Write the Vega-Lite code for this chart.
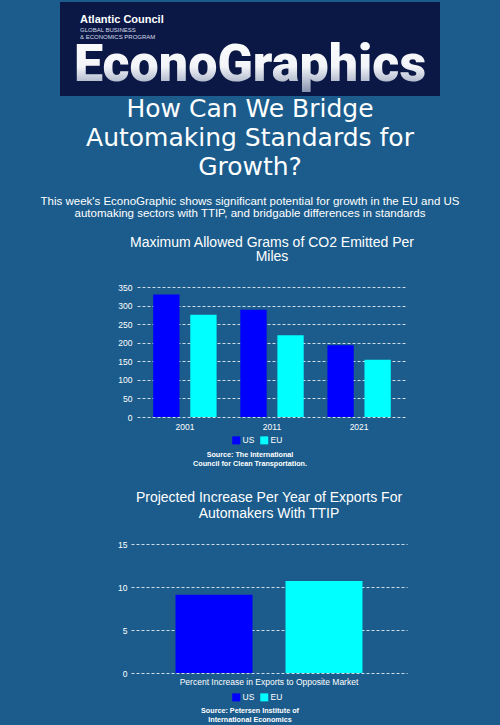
{
  "$schema": "https://vega.github.io/schema/vega-lite/v6.json",
  "background": "#1b5c8c",
  "padding": {"top": 2, "left": 0, "right": 0, "bottom": 0},
  "spacing": 0,
  "resolve": {
    "scale": {"color": "independent", "xOffset": "independent"},
    "legend": {"color": "independent"}
  },
  "config": {
    "font": "Liberation Sans",
    "view": {"stroke": null},
    "axis": {
      "labelColor": "#ffffff",
      "labelFont": "Liberation Sans",
      "labelFontSize": 8.5,
      "domain": false,
      "ticks": false,
      "gridColor": "#cfdcea",
      "gridDash": [3, 2],
      "gridWidth": 1,
      "title": null
    },
    "legend": {
      "symbolType": "square",
      "symbolSize": 64,
      "symbolStrokeWidth": 0,
      "labelColor": "#ffffff",
      "labelFontSize": 8.5,
      "labelOffset": 2,
      "columnPadding": 5,
      "title": null
    }
  },
  "vconcat": [
    {
      "spacing": 0,
      "hconcat": [
        {
          "width": 60,
          "height": 94,
          "data": {"values": [{}]},
          "mark": {"type": "text"},
          "encoding": {"text": {"value": ""}}
        },
        {
          "width": 380,
          "height": 94,
          "view": {"fill": "#0b1846", "stroke": null},
          "title": {
            "text": "Atlantic Council",
            "subtitle": ["GLOBAL BUSINESS", "& ECONOMICS PROGRAM"],
            "anchor": "start",
            "frame": "group",
            "orient": "top",
            "offset": -38,
            "dx": 20,
            "font": "Liberation Sans",
            "fontSize": 11,
            "fontWeight": "bold",
            "color": "#ffffff",
            "subtitleFont": "Liberation Sans",
            "subtitleFontSize": 6,
            "subtitleColor": "#d5dbe8",
            "subtitlePadding": 1.5,
            "subtitleLineHeight": 7.5
          },
          "data": {"values": [{"t": "EconoGraphics"}]},
          "mark": {
            "type": "text",
            "font": "Roboto",
            "fontWeight": 900,
            "fontSize": 52,
            "baseline": "line-top",
            "lineHeight": 34,
            "color": {
              "gradient": "linear",
              "x1": 0, "y1": 0, "x2": 0, "y2": 1,
              "stops": [
                {"offset": 0, "color": "#ffffff"},
                {"offset": 0.55, "color": "#f2f4f8"},
                {"offset": 1, "color": "#7f8cab"}
              ]
            }
          },
          "encoding": {"text": {"field": "t"}}
        }
      ]
    },
    {
      "width": 500,
      "height": 1,
      "title": {
        "text": ["How Can We Bridge", "Automaking Standards for", "Growth?"],
        "subtitle": ["This week's EconoGraphic shows significant potential for growth in the EU and US", "automaking sectors with TTIP, and bridgable differences in standards"],
        "anchor": "middle",
        "frame": "group",
        "orient": "top",
        "offset": 4,
        "font": "DejaVu Sans",
        "fontWeight": "normal",
        "fontSize": 25,
        "lineHeight": 29,
        "color": "#ffffff",
        "subtitleFont": "Liberation Sans",
        "subtitleFontSize": 11.5,
        "subtitleLineHeight": 12.5,
        "subtitleColor": "#ffffff",
        "subtitlePadding": 16
      },
      "data": {"values": [{}]},
      "mark": {"type": "text"},
      "encoding": {"text": {"value": ""}}
    },
    {
      "spacing": 0,
      "resolve": {
        "scale": {"color": "independent", "xOffset": "independent"},
        "legend": {"color": "independent"}
      },
      "hconcat": [
        {
          "width": 112,
          "height": 163,
          "data": {"values": [{}]},
          "mark": {"type": "text"},
          "encoding": {"text": {"value": ""}}
        },
        {
          "width": 270,
          "height": 130,
          "title": {
            "text": ["Maximum Allowed Grams of CO2 Emitted Per", "Miles"],
            "font": "Liberation Sans",
            "fontSize": 14,
            "fontWeight": "normal",
            "color": "#ffffff",
            "lineHeight": 14.5,
            "offset": 19,
            "anchor": "middle"
          },
          "data": {
            "values": [
              {"year": "2001", "region": "US", "value": 330},
              {"year": "2001", "region": "EU", "value": 275},
              {"year": "2011", "region": "US", "value": 289},
              {"year": "2011", "region": "EU", "value": 220},
              {"year": "2021", "region": "US", "value": 193},
              {"year": "2021", "region": "EU", "value": 154}
            ]
          },
          "mark": {"type": "bar"},
          "encoding": {
            "x": {
              "field": "year",
              "type": "nominal",
              "scale": {"paddingInner": 0, "paddingOuter": 0.05},
              "axis": {"labelAngle": 0, "grid": false, "labelPadding": 5}
            },
            "xOffset": {
              "field": "region",
              "type": "nominal",
              "scale": {"domain": ["US", "EU"], "paddingInner": 0.29, "paddingOuter": 0.32}
            },
            "y": {
              "field": "value",
              "type": "quantitative",
              "scale": {"domain": [0, 350], "nice": false},
              "axis": {"values": [0, 50, 100, 150, 200, 250, 300, 350], "minExtent": 25, "labelPadding": 5}
            },
            "color": {
              "field": "region",
              "type": "nominal",
              "scale": {"domain": ["US", "EU"], "range": ["#0000ff", "#00ffff"]},
              "legend": {"orient": "none", "legendX": 95, "legendY": 149, "direction": "horizontal"}
            }
          }
        }
      ]
    },
    {
      "width": 500,
      "height": 1,
      "title": {
        "text": ["Source: The International", "Council for Clean Transportation."],
        "anchor": "middle",
        "frame": "group",
        "orient": "top",
        "offset": 12,
        "font": "Liberation Sans",
        "fontSize": 7.2,
        "fontWeight": "bold",
        "lineHeight": 9.5,
        "color": "#ffffff"
      },
      "data": {"values": [{}]},
      "mark": {"type": "text"},
      "encoding": {"text": {"value": ""}}
    },
    {
      "spacing": 0,
      "resolve": {
        "scale": {"color": "independent", "xOffset": "independent"},
        "legend": {"color": "independent"}
      },
      "hconcat": [
        {
          "width": 106,
          "height": 162,
          "data": {"values": [{}]},
          "mark": {"type": "text"},
          "encoding": {"text": {"value": ""}}
        },
        {
          "width": 276,
          "height": 129,
          "title": {
            "text": ["Projected Increase Per Year of Exports For", "Automakers With TTIP"],
            "font": "Liberation Sans",
            "fontSize": 14,
            "fontWeight": "normal",
            "color": "#ffffff",
            "lineHeight": 16,
            "offset": 19,
            "anchor": "middle"
          },
          "data": {
            "values": [
              {"measure": "Percent Increase in Exports to Opposite Market", "region": "US", "value": 9.1},
              {"measure": "Percent Increase in Exports to Opposite Market", "region": "EU", "value": 10.7}
            ]
          },
          "mark": {"type": "bar"},
          "encoding": {
            "x": {
              "field": "measure",
              "type": "nominal",
              "scale": {"paddingInner": 0, "paddingOuter": 0},
              "axis": {"labelAngle": 0, "grid": false, "labelPadding": 4, "labelLimit": 400}
            },
            "xOffset": {
              "field": "region",
              "type": "nominal",
              "scale": {"domain": ["US", "EU"], "paddingInner": 0.3, "paddingOuter": 0.405}
            },
            "y": {
              "field": "value",
              "type": "quantitative",
              "scale": {"domain": [0, 15], "nice": false},
              "axis": {"values": [0, 5, 10, 15], "minExtent": 25, "labelPadding": 4}
            },
            "color": {
              "field": "region",
              "type": "nominal",
              "scale": {"domain": ["US", "EU"], "range": ["#0000ff", "#00ffff"]},
              "legend": {"orient": "none", "legendX": 101, "legendY": 149, "direction": "horizontal"}
            }
          }
        }
      ]
    },
    {
      "width": 500,
      "height": 1,
      "title": {
        "text": ["Source: Petersen Institute of", "International Economics"],
        "anchor": "middle",
        "frame": "group",
        "orient": "top",
        "offset": 0,
        "font": "Liberation Sans",
        "fontSize": 7.2,
        "fontWeight": "bold",
        "lineHeight": 9.5,
        "color": "#ffffff"
      },
      "data": {"values": [{}]},
      "mark": {"type": "text"},
      "encoding": {"text": {"value": ""}}
    }
  ]
}
